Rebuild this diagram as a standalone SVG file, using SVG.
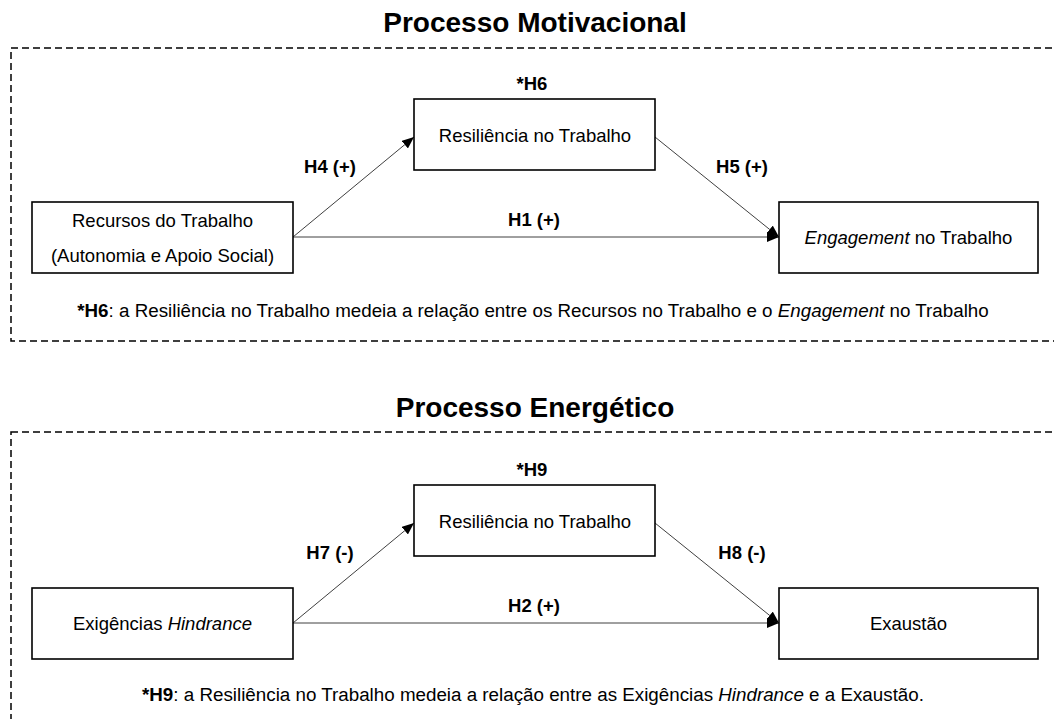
<svg xmlns="http://www.w3.org/2000/svg" width="1054" height="719" viewBox="0 0 1054 719">
<defs>
<style>
.frame{fill:none;stroke:#000;stroke-width:1.5;stroke-dasharray:7 4}
.box{fill:#fff;stroke:#000;stroke-width:1.6}
.title{font-family:"Liberation Sans",Arial,sans-serif;font-size:28px;font-weight:bold;text-anchor:middle;fill:#000}
.t{font-family:"Liberation Sans",Arial,sans-serif;font-size:18.5px;text-anchor:middle;fill:#000}
.note{font-family:"Liberation Sans",Arial,sans-serif;font-size:18.8px;text-anchor:middle;fill:#000}
.lbl{font-family:"Liberation Sans",Arial,sans-serif;font-size:18.5px;font-weight:bold;text-anchor:middle;fill:#000}
.conn{stroke:#404040;stroke-width:1;fill:none;marker-end:url(#ah)}
</style>
<marker id="ah" markerUnits="userSpaceOnUse" markerWidth="12" markerHeight="10" viewBox="0 0 12 10" refX="12" refY="5" orient="auto">
<path d="M0,0 L12,5 L0,10 z" fill="#000"/>
</marker>
</defs>
<rect width="1054" height="719" fill="#fff"/>

<g id="section-motivacional">
<rect class="frame" x="11" y="48" width="1060" height="293"/>
<text class="title" x="535" y="32">Processo Motivacional</text>
<text class="note" x="533" y="317"><tspan font-weight="bold">*H6</tspan>: a Resiliência no Trabalho medeia a relação entre os Recursos no Trabalho e o <tspan font-style="italic">Engagement</tspan> no Trabalho</text>
</g>

<g id="section-energetico">
<rect class="frame" x="11" y="432" width="1060" height="300"/>
<text class="title" x="535" y="417">Processo Energético</text>
<text class="note" x="533" y="701"><tspan font-weight="bold">*H9</tspan>: a Resiliência no Trabalho medeia a relação entre as Exigências <tspan font-style="italic">Hindrance</tspan> e a Exaustão.</text>
</g>

<g id="connectors">
<line class="conn" x1="293" y1="237" x2="414" y2="137"/>
<line class="conn" x1="655" y1="137" x2="779" y2="237"/>
<line class="conn" x1="293" y1="237" x2="779" y2="237"/>
<line class="conn" x1="293" y1="623" x2="414" y2="523"/>
<line class="conn" x1="655" y1="523" x2="779" y2="623"/>
<line class="conn" x1="293" y1="623" x2="779" y2="623"/>
<text class="lbl" x="330" y="173">H4 (+)</text>
<text class="lbl" x="742" y="173">H5 (+)</text>
<text class="lbl" x="534" y="226">H1 (+)</text>
<text class="lbl" x="330" y="559">H7 (-)</text>
<text class="lbl" x="742" y="559">H8 (-)</text>
<text class="lbl" x="534" y="612">H2 (+)</text>
</g>

<g id="node-resiliencia-1">
<rect class="box" x="414" y="99" width="241" height="71"/>
<text class="lbl" x="532" y="90">*H6</text>
<text class="t" x="535" y="141.5">Resiliência no Trabalho</text>
</g>
<g id="node-recursos">
<rect class="box" x="32" y="202" width="261" height="71"/>
<text class="t" x="162.5" y="226.5">Recursos do Trabalho</text>
<text class="t" x="162.5" y="261.5">(Autonomia e Apoio Social)</text>
</g>
<g id="node-engagement">
<rect class="box" x="779" y="202" width="259" height="71"/>
<text class="t" x="908.5" y="243.5"><tspan font-style="italic">Engagement</tspan> no Trabalho</text>
</g>

<g id="node-resiliencia-2">
<rect class="box" x="414" y="485" width="241" height="71"/>
<text class="lbl" x="532" y="476">*H9</text>
<text class="t" x="535" y="527.5">Resiliência no Trabalho</text>
</g>
<g id="node-exigencias">
<rect class="box" x="32" y="588" width="261" height="71"/>
<text class="t" x="162.5" y="630">Exigências <tspan font-style="italic">Hindrance</tspan></text>
</g>
<g id="node-exaustao">
<rect class="box" x="779" y="588" width="259" height="71"/>
<text class="t" x="908.5" y="630">Exaustão</text>
</g>
</svg>
